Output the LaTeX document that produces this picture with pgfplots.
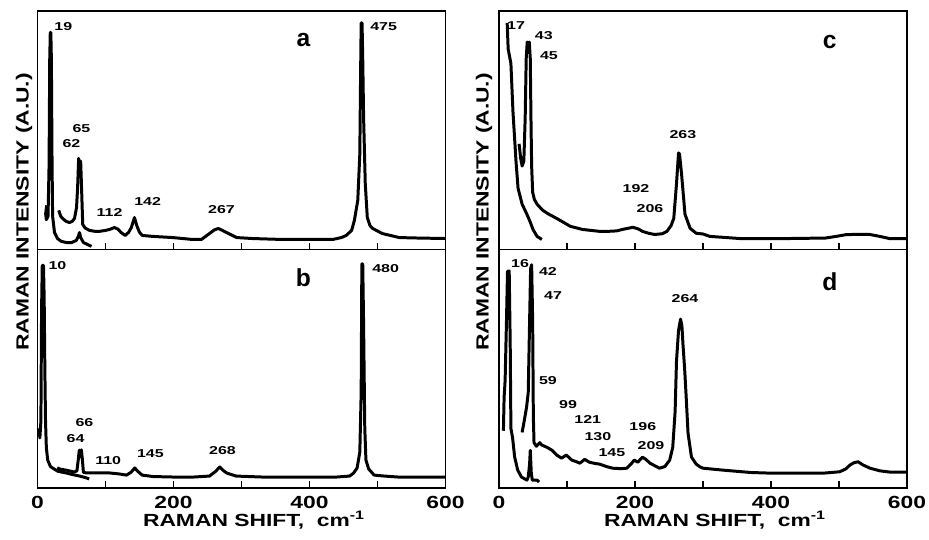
\documentclass[border=0pt]{standalone}
\usepackage{fontspec}
\setmainfont{Liberation Sans}[FakeStretch=1.3]
\newfontfamily\peakfont[FakeStretch=1.4]{Liberation Sans}
\newfontfamily\plainfont{Liberation Sans}
\usepackage{pgfplots}
\pgfplotsset{compat=1.18}

\newcommand\pk{\peakfont\bfseries\fontsize{6.5}{7}\selectfont}
\newcommand\lab{\fontsize{10}{12}\selectfont\bfseries}
\tikzset{panel/.style={font=\plainfont\fontsize{14}{15}\selectfont\bfseries},
 sp/.style={black, line width=1.7pt, line join=round, mark=none}}

\pgfplotsset{raman/.style={
  scale only axis, width=8.16cm, height=4.77cm,
  xmin=0, xmax=600, ymin=0, ymax=100,
  axis line style={line width=0.9pt},
  ytick=\empty,
  xtick={0,200,400,600}, minor xtick={100,300,500},
  xtick pos=left, tick align=inside,
  major tick length=0.13cm, minor tick length=0.13cm,
  every tick/.style={black,line width=0.9pt},
  /pgf/number format/assume math mode=true,
  xticklabel style={font=\lab, anchor=center, yshift=-0.28cm},
 }}

% panel a
\pgfplotstableread{
x y
13.5 18.5
12.0 15.0
13.0 12.5
15.5 14
17.0 35
18.0 80
18.8 91
19.6 91
20.4 80
21.3 40
22.2 14
25 7.1
29.4 4.6
35 3.4
43 2.9
50 2.9
57 3.8
60 5.5
61.8 7.1
63.5 5
67.6 2.9
73.5 2.1
79.4 1.3
}\aone
\pgfplotstableread{
x y
31.3 16.4
34 14
37 13
42 11.8
47 11.3
51 11.8
54.4 13
57.4 17.6
59 26
60.5 38.2
62 35
63.5 37
65 24
66.5 10.5
70 9
76.5 8
85 7.6
91 7.6
100 8
106 8.4
113 9.2
118 8.6
123 7.1
129 5.9
134 7.2
138 9.2
142.6 13.4
146 10
150 7.2
154 5.9
169 5.5
199 5
228 4.2
241 4.2
253 6.7
260 8.2
266 8.8
272 8
278 7.1
293 5
316 4.6
360 4.2
415 4.2
434 4.2
447 5
454 5.9
462 8
466 12.2
471 20.6
474 40
475.2 75
476 95
477.3 95
478.3 80
479.6 55
482 27.7
485 13.4
489 10
493 8.8
507 6.7
532 5
560 4.8
601 4.6
}\atwo

% panel b
\pgfplotstableread{
x y
2 25
3.5 21
5 28
6 75
7 93.3
8.8 93.3
9.8 80
10.8 50
11.8 28
13 17
15 11.7
19 9
22 8.4
30 7
42 6.3
52 5.6
62 5
70 4.4
76 3.8
}\bone
\pgfplotstableread{
x y
29 8.4
35 7.8
42 7.5
54 6.7
58 7.2
60 12
61.5 15.9
63 13
64.5 16
66 12
67.5 6.6
72 6.3
86 6.3
106 6.3
120 5.9
131 5.4
138 6.7
143 8.4
147 7.1
154 5.4
170 4.8
199 4.6
230 4.6
253 5
262 7
268 8.8
273 7.4
278 6.3
292 5
330 4.6
400 4.6
440 4.6
459 5
465 6.3
470 8.4
474 15
476 40
477 94
478.3 94
479.5 70
481.3 25
483 11.7
487 8
495 5.4
510 5
530 4.6
601 4.6
}\btwo

% panel c
\pgfplotstableread{
x y
12 95
13.5 84
17.5 78
20.5 58
25 37
28 25.7
34 19
41 14.8
45.5 11.8
50 8.4
56 5.5
63 4.2
}\cone
\pgfplotstableread{
x y
29.5 44.3
32 38
34 35
36.5 37
38.5 55
40 80
41.5 87
43 84
44.5 87
46 80
47 55
48 35
49.5 24
52 21
56 19
64 16.5
72 15
85 13
105 9.7
123 8.4
148 7.6
160 7.6
173 7.8
183 8.5
190 8.9
197 9.3
205 8.6
211 7.6
220 6.8
229 6.3
240 6.6
247 7.6
253 10
257 13
261 27.4
264 40.5
265.5 40
268.5 31.6
273.5 14.8
281 8.9
290 6.8
300 6.5
310 5.5
354 4.6
427 4.6
480 4.8
496 5.5
510 6.2
520 6.3
545 6.3
560 5.5
574 4.6
600 4.6
}\ctwo

% panel d
\pgfplotstableread{
x y
6.5 24
7.5 38
9 45
11 70
12.5 90.8
15 91
16.5 60
17.5 25
20 21
23 13
27.5 7.5
33 4.6
41 3.3
43 4.6
45 10
46 15.8
47.5 6.2
49 3.3
56 3.3
59 2.5
}\done
\pgfplotstableread{
x y
34 23.3
37 28
40.5 33.8
43 40
45 70
46.5 92
48 93.6
49.5 70
50.5 30
51.5 19
55 17.5
60 19
63 18
67 17.5
71 17
78 15.8
85 13.8
92 12.5
99 13.8
107 11.7
114 11
119 10.4
126 12
133 10.8
141 10.3
148 10
158 9
167 8.3
180 8.1
188 8.3
194 10
199 11.7
204 10.8
211 12.9
216 12
222 10.4
236 8.3
244 9
251 11.7
255.5 17
259 32
261 53
264 66
267 70.8
269 68
270.6 60
273 50
275 39.6
278 23
283 13
290 10
296 8.8
300 8.3
329 7.5
370 6.5
402 6.2
476 6.2
501 6.8
510 8
516 9.6
522 10.6
528 11
535 9.7
545.6 8.3
560 7.2
574 6.7
600 6.7
}\dtwo

\begin{document}
\begin{tikzpicture}
\path[use as bounding box] (0,0) rectangle (18.58,10.8);

% a
\begin{axis}[raman, at={(0.75cm,5.81cm)}, anchor=south west, xticklabels={}]
\addplot[sp] table {\aone};
\addplot[sp] table {\atwo};
\node[font=\pk] at (38,93.3) {19};
\node[font=\pk] at (64.7,50.8) {65};
\node[font=\pk] at (50,44.5) {62};
\node[font=\pk] at (106,15.5) {112};
\node[font=\pk] at (162,20.2) {142};
\node[font=\pk] at (270.6,16.8) {267};
\node[font=\pk] at (509,93.3) {475};
\node[panel] at (391,87.8) {a};
\end{axis}

% b
\begin{axis}[raman, at={(0.75cm,1.04cm)}, anchor=south west]
\addplot[sp] table {\bone};
\addplot[sp] table {\btwo};
\node[font=\pk] at (29.4,93.3) {10};
\node[font=\pk] at (69,27.6) {66};
\node[font=\pk] at (56,20.9) {64};
\node[font=\pk] at (104,11.7) {110};
\node[font=\pk] at (166,14.6) {145};
\node[font=\pk] at (272,15.9) {268};
\node[font=\pk] at (512,92) {480};
\node[panel] at (391,88.3) {b};
\end{axis}

% c
\begin{axis}[raman, at={(9.98cm,5.81cm)}, anchor=south west, xticklabels={}]
\addplot[sp] table {\cone};
\addplot[sp] table {\ctwo};
\node[font=\pk] at (25,93.7) {17};
\node[font=\pk] at (66,89.9) {43};
\node[font=\pk] at (73.5,81.4) {45};
\node[font=\pk] at (201.5,25.7) {192};
\node[font=\pk] at (222,17.3) {206};
\node[font=\pk] at (270.5,48.1) {263};
\node[panel] at (486.5,86.9) {c};
\end{axis}

% d
\begin{axis}[raman, at={(9.98cm,1.04cm)}, anchor=south west]
\addplot[sp] table {\done};
\addplot[sp] table {\dtwo};
\node[font=\pk] at (31,94.2) {16};
\node[font=\pk] at (72,90.8) {42};
\node[font=\pk] at (79.5,80.8) {47};
\node[font=\pk] at (72,45) {59};
\node[font=\pk] at (101.5,35) {99};
\node[font=\pk] at (130.5,28.8) {121};
\node[font=\pk] at (145.5,21.7) {130};
\node[font=\pk] at (166,15) {145};
\node[font=\pk] at (211.5,25.8) {196};
\node[font=\pk] at (223.5,17.9) {209};
\node[font=\pk] at (273.5,79.6) {264};
\node[panel] at (486.5,86.7) {d};
\end{axis}

\node[rotate=90, font=\lab] at (0.48,6.56) {RAMAN INTENSITY (A.U.)};
\node[rotate=90, font=\lab] at (9.68,6.56) {RAMAN INTENSITY (A.U.)};
\node[font=\lab] at (5.08,0.4) {RAMAN SHIFT,\ \ cm\textsuperscript{-1}};
\node[font=\lab] at (14.3,0.4) {RAMAN SHIFT,\ \ cm\textsuperscript{-1}};
\end{tikzpicture}
\end{document}
